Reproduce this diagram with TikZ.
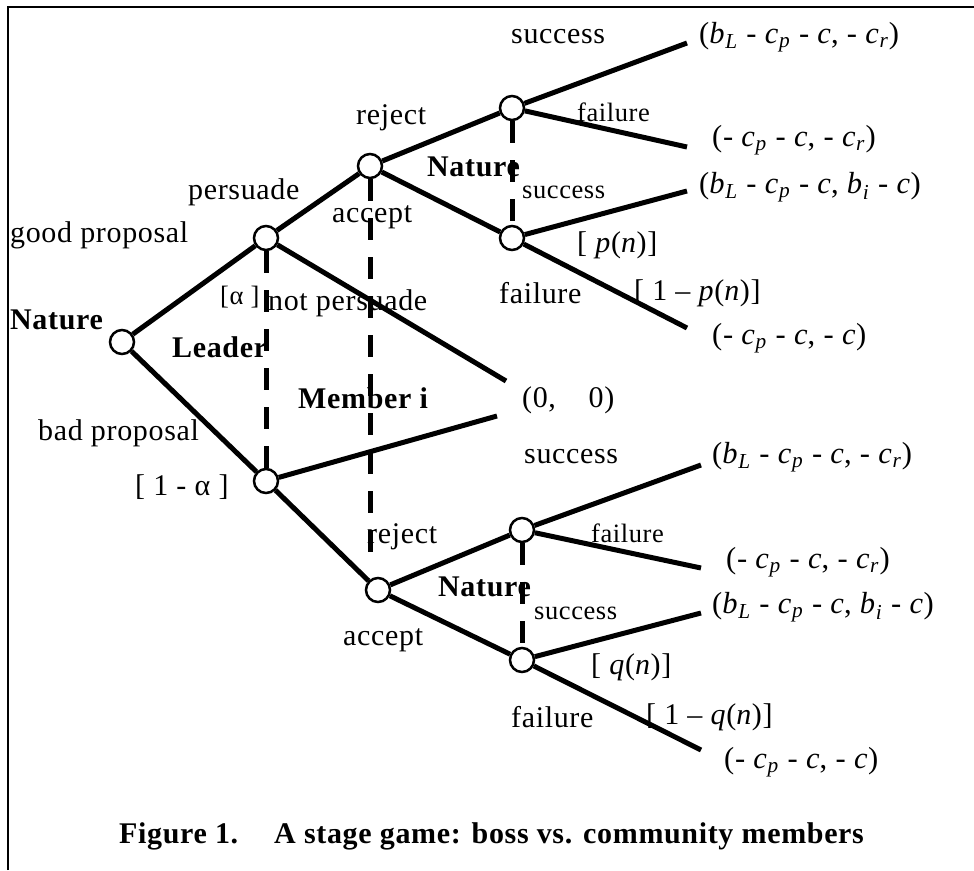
\documentclass[tikz,border=0pt]{standalone}
\usepackage{fontspec}
\setmainfont[LetterSpace=2.2]{Liberation Serif}
\newcommand{\iv}[1]{\textit{#1}}
\newcommand{\sbt}[1]{\textsubscript{\textit{#1}}}
\begin{document}
\begin{tikzpicture}[x=1pt,y=-1pt,
  dec/.style={circle,draw,fill=white,line width=2.5pt,minimum size=24pt,inner sep=0pt},
  branch/.style={line width=5pt},
  info/.style={line width=5pt,dash pattern=on 22pt off 17pt},
  lbl/.style={anchor=west,inner sep=0pt,font=\fontsize{30}{36}\selectfont},
  slbl/.style={anchor=west,inner sep=0pt,font=\fontsize{26.5}{30}\selectfont},
  blbl/.style={anchor=west,inner sep=0pt,font=\fontsize{30}{36}\selectfont\bfseries},
  pay/.style={anchor=west,inner sep=0pt,font=\fontsize{30.5}{36}\selectfont},
]
\useasboundingbox (0,0) rectangle (974,870);
% frame
\draw[line width=2.2pt] (8,870) -- (8,7) -- (974,7);

% decision nodes
\node[dec] (root) at (122,342) {};
\node[dec] (lg) at (266,238) {};
\node[dec] (lb) at (266,481) {};
\node[dec] (mt) at (370,166) {};
\node[dec] (mb) at (378,590) {};
\node[dec] (ntt) at (512,108) {};
\node[dec] (ntb) at (512,238) {};
\node[dec] (nbt) at (522,530) {};
\node[dec] (nbb) at (522,660) {};

% terminal points
\coordinate (e1) at (687,43);
\coordinate (e2) at (687,147);
\coordinate (e3) at (687,191);
\coordinate (e4) at (687,328);
\coordinate (e5) at (506,381);
\coordinate (e6) at (497,416);
\coordinate (e7) at (701,465);
\coordinate (e8) at (701,568);
\coordinate (e9) at (701,613);
\coordinate (e10) at (701,750);
\coordinate (mend) at (370,553);

% branches
\draw[branch] (root) -- (lg);
\draw[branch] (root) -- (lb);
\draw[branch] (lg) -- (mt);
\draw[branch] (lg) -- (e5);
\draw[branch] (lb) -- (e6);
\draw[branch] (lb) -- (mb);
\draw[branch] (mt) -- (ntt);
\draw[branch] (mt) -- (ntb);
\draw[branch] (mb) -- (nbt);
\draw[branch] (mb) -- (nbb);
\draw[branch] (ntt) -- (e1);
\draw[branch] (ntt) -- (e2);
\draw[branch] (ntb) -- (e3);
\draw[branch] (ntb) -- (e4);
\draw[branch] (nbt) -- (e7);
\draw[branch] (nbt) -- (e8);
\draw[branch] (nbb) -- (e9);
\draw[branch] (nbb) -- (e10);

% information sets
\draw[info] (lg) -- (lb);
\draw[info] (mt.south) -- (mend);
\draw[info] (ntt) -- (ntb);
\draw[info] (nbt) -- (nbb);

% labels
\node[lbl] (l1) at (511,37) {success};
\node[pay] (p1) at (699,37) {(\iv{b}\sbt{L} - \iv{c}\sbt{p} - \iv{c}, - \iv{c}\sbt{r})};
\node[lbl] (l2) at (356,118) {reject};
\node[slbl] (l3) at (577,112) {failure};
\node[pay] (p2) at (712,140) {(- \iv{c}\sbt{p} - \iv{c}, - \iv{c}\sbt{r})};
\node[blbl] (l4) at (427,167) {Nature};
\node[slbl] (l5) at (522,192) {success};
\node[pay] (p3) at (699,187) {(\iv{b}\sbt{L} - \iv{c}\sbt{p} - \iv{c}, \iv{b}\sbt{i} - \iv{c})};
\node[lbl] (l6) at (188,192) {persuade};
\node[lbl] (l7) at (332,217) {accept};
\node[lbl] (l8) at (10,235) {good proposal};
\node[lbl] (l9) at (577,245) {[ \iv{p}(\iv{n})]};
\node[lbl] (l10) at (499,293) {failure};
\node[lbl] (l11) at (634,293) {[ 1 – \iv{p}(\iv{n})]};
\node[slbl] (l12) at (220,297) {[α ]};
\node[lbl] (l13) at (268,303) {not persuade};
\node[blbl] (l14) at (10,320) {Nature};
\node[pay] (p4) at (712,338) {(- \iv{c}\sbt{p} - \iv{c}, - \iv{c})};
\node[blbl] (l15) at (172,347) {Leader};
\node[blbl] (l16) at (298,398) {Member i};
\node[lbl] (p5) at (522,400) {(0,\ \ \ \ 0)};
\node[lbl] (l17) at (38,433) {bad proposal};
\node[lbl] (l18) at (524,457) {success};
\node[pay] (p6) at (712,457) {(\iv{b}\sbt{L} - \iv{c}\sbt{p} - \iv{c}, - \iv{c}\sbt{r})};
\node[lbl] (l19) at (135,487) {[ 1 - α ]};
\node[slbl] (l20) at (591,533) {failure};
\node[lbl] (l21) at (367,537) {reject};
\node[pay] (p7) at (726,562) {(- \iv{c}\sbt{p} - \iv{c}, - \iv{c}\sbt{r})};
\node[blbl] (l22) at (438,587) {Nature};
\node[pay] (p8) at (712,607) {(\iv{b}\sbt{L} - \iv{c}\sbt{p} - \iv{c}, \iv{b}\sbt{i} - \iv{c})};
\node[slbl] (l23) at (534,613) {success};
\node[lbl] (l24) at (343,640) {accept};
\node[lbl] (l25) at (591,667) {[ \iv{q}(\iv{n})]};
\node[lbl] (l26) at (511,717) {failure};
\node[lbl] (l27) at (646,717) {[ 1 – \iv{q}(\iv{n})]};
\node[pay] (p9) at (724,762) {(- \iv{c}\sbt{p} - \iv{c}, - \iv{c})};
\node[blbl] (cap) at (119,836) {Figure 1.\hspace{36pt}A stage game: boss vs. community members};
\end{tikzpicture}
\end{document}
